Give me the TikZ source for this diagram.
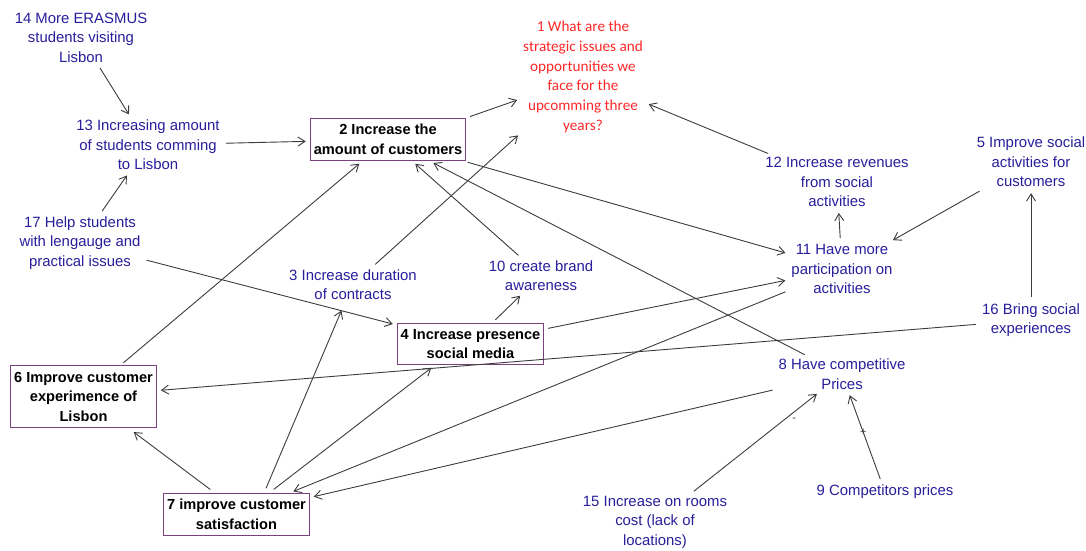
\documentclass[tikz,border=0pt]{standalone}
\usepackage{fontspec}
\setmainfont{Liberation Sans}
\newfontfamily\calfont{Carlito}
\usetikzlibrary{arrows.meta}
\definecolor{ink}{RGB}{40,30,155}
\definecolor{redink}{RGB}{255,40,40}
\definecolor{boxc}{RGB}{120,65,125}
\definecolor{lnc}{RGB}{60,60,60}
\tikzstyle{txt}=[text=ink,align=center,inner sep=2pt,font=\fontsize{14.9}{19.5}\selectfont]
\tikzstyle{bx}=[draw=boxc,line width=1pt,align=center,inner xsep=3.5pt,inner ysep=6pt,font=\fontsize{14.6}{19.5}\selectfont\bfseries]
\tikzstyle{goal}=[text=redink,align=center,inner sep=2pt,font=\calfont\fontsize{15.2}{19.8}\selectfont]
\tikzstyle{arr}=[draw=lnc,line width=0.9pt,shorten >=4pt,shorten <=4pt,-{Straight Barb[length=7pt,width=9pt]}]
\tikzstyle{sgn}=[text=lnc,inner sep=1pt,font=\fontsize{11}{11}\selectfont]

\begin{document}
\begin{tikzpicture}[x=1pt,y=-1pt]
\useasboundingbox (0,0) rectangle (1086,550);
\node[goal] (n1) at (583,77) {1 What are the\\strategic issues and\\opportunities we\\face for the\\upcomming three\\years?};
\node[bx] (n2) at (388,139.5) {2 Increase the\\amount of customers};
\node[txt] (n3) at (353,284.5) {3 Increase duration\\of contracts};
\node[bx] (n4) at (470.5,344) {4 Increase presence\\social media};
\node[txt] (n5) at (1031,162) {5 Improve social\\activities for\\customers};
\node[bx] (n6) at (83.5,396.5) {6 Improve customer\\experimence of\\Lisbon};
\node[bx] (n7) at (236.5,514.5) {7 improve customer\\satisfaction};
\node[txt] (n8) at (842,374) {8 Have competitive\\Prices};
\node[txt] (n9) at (885,492) {9 Competitors prices};
\node[txt] (n10) at (541,275.5) {10 create brand\\awareness};
\node[txt] (n11) at (842,269) {11 Have more\\participation on\\activities};
\node[txt] (n12) at (837,182) {12 Increase revenues\\from social\\activities};
\node[txt] (n13) at (148,145) {13 Increasing amount\\of students comming\\to Lisbon};
\node[txt] (n14) at (81,37.5) {14 More ERASMUS\\students visiting\\Lisbon};
\node[txt] (n15) at (655,522) {15 Increase on rooms\\cost (lack of\\locations)};
\node[txt] (n16) at (1031,320) {16 Bring social\\experiences};
\node[txt] (n17) at (80,243) {17 Help students\\with lengauge and\\practical issues};

\draw[arr] (n14) -- (n13);
\draw[arr] (n17) -- (n13);
\draw[arr] (n13) -- (n2);
\draw[arr] (n2.north east) -- (n1);
\draw[arr] (n12) -- (n1);
\draw[arr] (n3) -- (n1);
\draw[arr] (n10) -- (n2);
\draw[arr] (n8) -- (n2);
\draw[arr] (n6) -- (n2);
\draw[arr] (n2) -- (n11);
\draw[arr] (n17) -- (n4);
\draw[arr] (n4) -- (n10);
\draw[arr] (n4) -- (n11);
\draw[arr] (n11) -- (n12);
\draw[arr] (n5) -- (n11);
\draw[arr] (n16) -- (n5);
\draw[arr] (n16) -- (n6);
\draw[arr] (n11) -- (n7);
\draw[arr] (n8) -- (n7);
\draw[arr] ([xshift=-23pt,yshift=1pt]n7.north) -- ([xshift=47pt,yshift=-2pt]n6.south);
\draw[arr] ([xshift=28pt,yshift=1pt]n7.north) -- ([xshift=-10pt,yshift=-5pt]n3.south);
\draw[arr] ([xshift=34pt,yshift=1pt]n7.north) -- ([xshift=-36pt]n4.south);
\draw[arr] (n15) -- node[sgn,pos=0.8,below=5pt] {-} (n8);
\draw[arr] (n9) -- node[sgn,pos=0.55] {+} (n8);
\end{tikzpicture}
\end{document}
